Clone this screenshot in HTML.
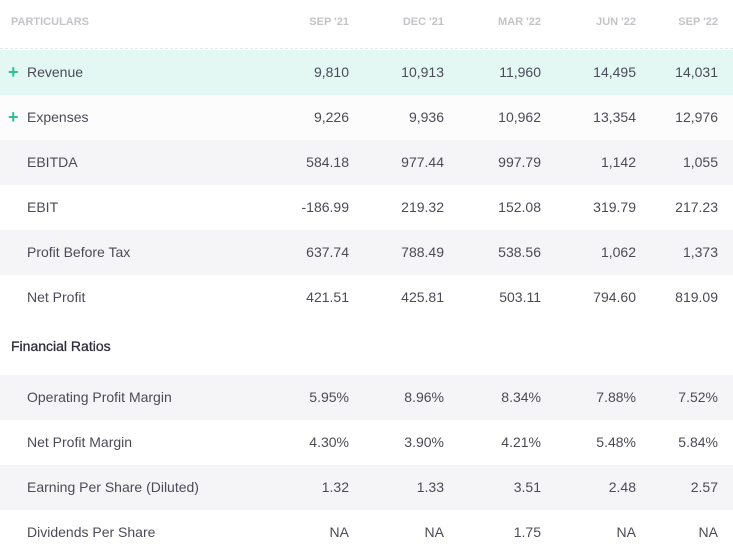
<!DOCTYPE html>
<html><head><style>
body{margin:0;width:733px;height:555px;overflow:hidden;background:#fff;font-family:"Liberation Sans",sans-serif;}
.r{position:absolute;left:0;width:733px;height:45px;line-height:45px;font-size:14px;color:#4b4b57;}
.r span{position:absolute;}
.l{left:27px}
.v{text-align:right;width:90px}
.c1{right:384px}.c2{right:289px}.c3{right:192px}.c4{right:97px}.c5{right:15px}
.g{background:#f5f5f7}
.h{font-size:11px;color:#c4c4c8;font-weight:bold;height:49px;line-height:44px;top:0;border-bottom:1px dashed #e6e6ea;box-sizing:border-box}
.p{position:absolute;left:8px;color:#2fbf96;font-size:18px;font-weight:bold}
</style></head><body>
<div class="r h"><span style="left:11px">PARTICULARS</span><span class="v c1">SEP '21</span><span class="v c2">DEC '21</span><span class="v c3">MAR '22</span><span class="v c4">JUN '22</span><span class="v c5">SEP '22</span></div>
<div class="r" style="top:50px;background:#e3f7f3"><span class="p">+</span><span class="l">Revenue</span><span class="v c1">9,810</span><span class="v c2">10,913</span><span class="v c3">11,960</span><span class="v c4">14,495</span><span class="v c5">14,031</span></div>
<div class="r" style="top:95px;background:#fcfcfd"><span class="p">+</span><span class="l">Expenses</span><span class="v c1">9,226</span><span class="v c2">9,936</span><span class="v c3">10,962</span><span class="v c4">13,354</span><span class="v c5">12,976</span></div>
<div class="r g" style="top:140px"><span class="l">EBITDA</span><span class="v c1">584.18</span><span class="v c2">977.44</span><span class="v c3">997.79</span><span class="v c4">1,142</span><span class="v c5">1,055</span></div>
<div class="r" style="top:185px"><span class="l">EBIT</span><span class="v c1">-186.99</span><span class="v c2">219.32</span><span class="v c3">152.08</span><span class="v c4">319.79</span><span class="v c5">217.23</span></div>
<div class="r g" style="top:230px"><span class="l">Profit Before Tax</span><span class="v c1">637.74</span><span class="v c2">788.49</span><span class="v c3">538.56</span><span class="v c4">1,062</span><span class="v c5">1,373</span></div>
<div class="r" style="top:275px"><span class="l">Net Profit</span><span class="v c1">421.51</span><span class="v c2">425.81</span><span class="v c3">503.11</span><span class="v c4">794.60</span><span class="v c5">819.09</span></div>
<div class="r" style="top:324px;color:#2e2e3a"><span style="left:11px;-webkit-text-stroke:0.3px #2e2e3a">Financial Ratios</span></div>
<div class="r g" style="top:375px"><span class="l">Operating Profit Margin</span><span class="v c1">5.95%</span><span class="v c2">8.96%</span><span class="v c3">8.34%</span><span class="v c4">7.88%</span><span class="v c5">7.52%</span></div>
<div class="r" style="top:420px"><span class="l">Net Profit Margin</span><span class="v c1">4.30%</span><span class="v c2">3.90%</span><span class="v c3">4.21%</span><span class="v c4">5.48%</span><span class="v c5">5.84%</span></div>
<div class="r g" style="top:465px"><span class="l">Earning Per Share (Diluted)</span><span class="v c1">1.32</span><span class="v c2">1.33</span><span class="v c3">3.51</span><span class="v c4">2.48</span><span class="v c5">2.57</span></div>
<div class="r" style="top:510px"><span class="l">Dividends Per Share</span><span class="v c1">NA</span><span class="v c2">NA</span><span class="v c3">1.75</span><span class="v c4">NA</span><span class="v c5">NA</span></div>
</body></html>
